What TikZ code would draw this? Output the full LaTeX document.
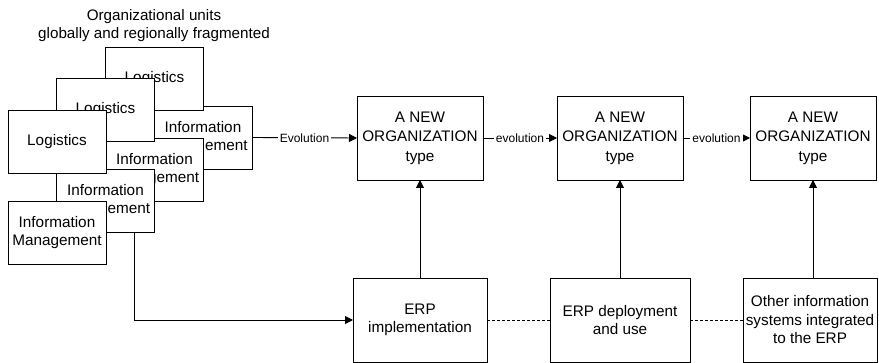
\documentclass[tikz,border=0pt]{standalone}
\usepackage{fontspec}
\setmainfont{Liberation Sans}
\usetikzlibrary{arrows.meta}
\begin{document}
\begin{tikzpicture}[x=1pt,y=-1pt,
  box/.style={draw=black, line width=0.9pt, fill=white, inner sep=0pt, outer sep=0pt,
    align=center, font=\fontsize{15.3}{18.5}\selectfont},
  unit/.style={box, minimum width=98pt, minimum height=63pt},
  orgbox/.style={box, minimum width=126pt, minimum height=84pt, font=\fontsize{15.3}{19.5}\selectfont},
  sysbox/.style={box, minimum height=84pt},
  flow/.style={line width=0.9pt, -{Triangle[length=8pt,width=8pt]}},
  link/.style={line width=0.9pt, dash pattern=on 3pt off 2pt},
  lbl/.style={fill=white, inner sep=2pt, font=\fontsize{12}{14}\selectfont},
]
\useasboundingbox (0,0) rectangle (879,363);

% heading over the stacked units
\node[align=center, font=\fontsize{15.2}{18}\selectfont] (title) at (154,26)
  {Organizational units\\globally and regionally fragmented};

% stacked organizational units, back to front
\node[unit] (im3) at (203,137.5) {Information\\Management};
\node[unit] (lg3) at (154.5,78.5) {Logistics};
\node[unit] (im2) at (154.5,169.5) {Information\\Management};
\node[unit] (lg2) at (105.5,109.5) {Logistics};
\node[unit] (im1) at (105.5,200.5) {Information\\Management};
\node[unit] (lg1) at (57,141.5) {Logistics};
\node[unit] (im0) at (57,232.5) {Information\\Management};

% new organization types
\node[orgbox] (a1) at (420,138) {A NEW\\ORGANIZATION\\type};
\node[orgbox] (a2) at (620,138) {A NEW\\ORGANIZATION\\type};
\node[orgbox] (a3) at (813,138) {A NEW\\ORGANIZATION\\type};

% systems row
\node[sysbox, minimum width=134pt] (e1) at (420,320) {ERP\\implementation};
\node[sysbox, minimum width=140pt] (e2) at (620,320) {ERP deployment\\and use};
\node[sysbox, minimum width=134pt] (e3) at (810,320) {Other information\\systems integrated\\to the ERP};

% evolution chain
\draw[flow] (im3.east) -- node[lbl] {Evolution} (a1.west);
\draw[flow] (a1.east) -- node[lbl] {evolution} (a2.west);
\draw[flow] (a2.east) -- node[lbl] {evolution} (a3.west);

% systems feeding each organization type
\draw[flow] (e1.north) -- (a1.south);
\draw[flow] (e2.north) -- (a2.south);
\draw[flow] (a3.south |- e3.north) -- (a3.south);

% units into the ERP implementation
\draw[flow] ([xshift=-20pt]im1.south east) |- (e1.west);

% dashed links between systems
\draw[link] (e1.east) -- (e2.west);
\draw[link] (e2.east) -- (e3.west);
\end{tikzpicture}
\end{document}
